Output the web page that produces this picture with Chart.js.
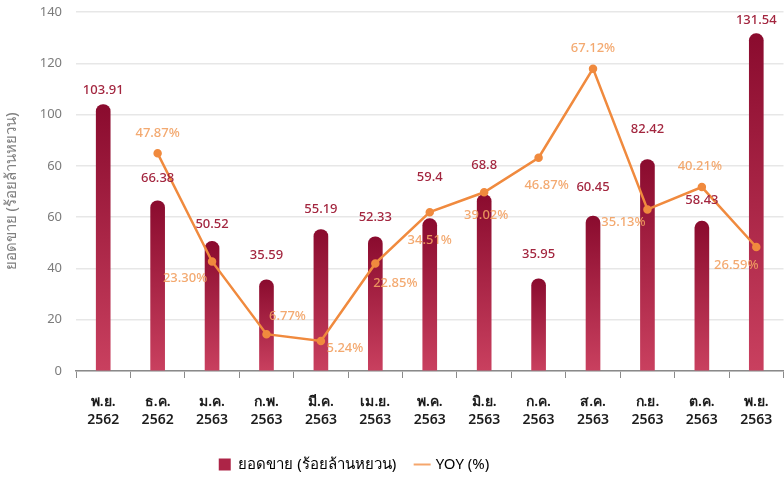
<!DOCTYPE html>
<html>
<head>
    <title>Chart</title>
    <script src="https://cdn.jsdelivr.net/npm/chart.js"></script>
    <style>
        body { margin: 0; overflow: hidden; background: #fff; }
    </style>
</head>
<body>
    <canvas id="sales" width="790" height="478"></canvas>
    <script>
        // months (Thai short month + Buddhist year)
        var months = ['พ.ย.', 'ธ.ค.', 'ม.ค.', 'ก.พ.', 'มี.ค.', 'เม.ย.', 'พ.ค.', 'มิ.ย.', 'ก.ค.', 'ส.ค.', 'ก.ย.', 'ต.ค.', 'พ.ย.']
        var years = ['2562', '2562', '2563', '2563', '2563', '2563', '2563', '2563', '2563', '2563', '2563', '2563', '2563']
        // sales, hundred million yuan
        var sales = [103.91, 66.38, 50.52, 35.59, 55.19, 52.33, 59.4, 68.8, 35.95, 60.45, 82.42, 58.43, 131.54]
        // year over year %
        var yoy = [null, 47.87, 23.30, 6.77, 5.24, 22.85, 34.51, 39.02, 46.87, 67.12, 35.13, 40.21, 26.59]
        // y tick labels as printed on the original (0..140 step 20)
        var yTickLabels = ['0', '20', '40', '60', '60', '100', '120', '140']

        var labels = months.map(function (m, i) { return [m, years[i]] })

        // label placement (px offsets from the mark), not data
        var barLabelLift = [14, 22, 17, 24, 20, 20, 41, 29, 25, 29, 30, 21, 13]
        var yoyLabelShift = [null, [0, -20], [-27, 17], [21, -18], [24, 7], [20, 20], [0, 28], [2, 23], [8, 28], [0, -20], [-24, 13], [-2, -21], [-20, 18]]

        var FONT = "'Noto Sans', 'Lato', sans-serif"

        function barGradient(c) {
            var chart = c.chart
            if (!chart.chartArea || c.type !== 'data') return '#a51f42'
            var y = chart.scales.y
            var top = y.getPixelForValue(c.parsed.y)
            var bottom = y.getPixelForValue(0)
            var g = chart.ctx.createLinearGradient(0, top, 0, bottom)
            g.addColorStop(0, '#8a0b2e')
            g.addColorStop(1, '#c9405f')
            return g
        }

        var valueLabels = {
            id: 'valueLabels',
            afterDatasetsDraw: function (chart) {
                var ctx = chart.ctx
                ctx.save()
                ctx.textAlign = 'center'
                ctx.textBaseline = 'middle'
                ctx.font = '500 13px ' + FONT

                var bars = chart.getDatasetMeta(0).data
                ctx.fillStyle = '#a3263f'
                bars.forEach(function (b, i) {
                    ctx.fillText(String(sales[i]), b.x, b.y - barLabelLift[i])
                })

                var pts = chart.getDatasetMeta(1).data
                ctx.fillStyle = 'rgba(242,160,96,0.9)'
                pts.forEach(function (p, i) {
                    if (yoy[i] == null) return
                    var s = yoyLabelShift[i]
                    ctx.fillText(yoy[i].toFixed(2) + '%', p.x + s[0], p.y + s[1])
                })
                ctx.restore()
            },
            beforeDraw: function (chart) {
                // legend sits left of the canvas centre in the reference
                chart.legend.left -= 41
                chart.legend.right -= 41
                chart.legend.top += 4
                chart.legend.bottom += 4
            }
        }

        var ctx = document.getElementById('sales').getContext('2d')
        var chart = new Chart(ctx, {
            data: {
                labels: labels,
                datasets: [{
                    type: 'bar',
                    label: 'ยอดขาย (ร้อยล้านหยวน)',
                    data: sales,
                    backgroundColor: barGradient,
                    barThickness: 14,
                    borderRadius: 7,
                    borderSkipped: 'bottom',
                    order: 2
                }, {
                    type: 'line',
                    label: 'YOY (%)',
                    data: yoy,
                    yAxisID: 'y1',
                    borderColor: '#f08a3e',
                    backgroundColor: '#f08a3e',
                    borderWidth: 2.5,
                    pointRadius: 3,
                    pointBackgroundColor: '#f08a3e',
                    tension: 0,
                    order: 1
                }]
            },
            options: {
                responsive: false,
                devicePixelRatio: 1,
                animation: false,
                layout: { padding: 0 },
                plugins: {
                    tooltip: { enabled: false },
                    legend: {
                        position: 'bottom',
                        labels: {
                            usePointStyle: true,
                            boxWidth: 12,
                            boxHeight: 12,
                            padding: 20,
                            color: '#333',
                            font: { family: FONT, size: 15 },
                            generateLabels: function () {
                                return [{
                                    text: 'ยอดขาย (ร้อยล้านหยวน)',
                                    fillStyle: '#ad2447',
                                    strokeStyle: '#ad2447',
                                    lineWidth: 0,
                                    pointStyle: 'rect',
                                    datasetIndex: 0
                                }, {
                                    text: 'YOY (%)',
                                    fillStyle: '#f08a3e',
                                    strokeStyle: '#f5a66c',
                                    lineWidth: 2,
                                    pointStyle: 'line',
                                    datasetIndex: 1
                                }]
                            }
                        }
                    }
                },
                scales: {
                    x: {
                        grid: {
                            drawOnChartArea: false,
                            tickLength: 7,
                            color: '#8a8a8a'
                        },
                        border: { color: '#8a8a8a', width: 1.5 },
                        ticks: {
                            color: '#1c1c1c',
                            padding: 15,
                            maxRotation: 0,
                            autoSkip: false,
                            font: { family: FONT, size: 14, weight: '600', lineHeight: 1.3 }
                        },
                        afterFit: function (s) { s.height = 62 }
                    },
                    y: {
                        min: 0,
                        max: 140,
                        ticks: {
                            stepSize: 20,
                            color: '#7c7c7c',
                            padding: 14,
                            font: { family: FONT, size: 13 },
                            callback: function (v) { return yTickLabels[v / 20] }
                        },
                        grid: { color: '#e7e7e7', lineWidth: 1.5, tickLength: 0 },
                        border: { display: false },
                        title: {
                            display: true,
                            text: 'ยอดขาย (ร้อยล้านหยวน)',
                            color: '#808080',
                            font: { family: FONT, size: 15 },
                            padding: { top: 3, bottom: 0 }
                        },
                        afterFit: function (s) {
                            s.width = 76
                            s.paddingTop = 12
                        }
                    },
                    y1: {
                        display: false,
                        min: -1.6,
                        max: 80
                    }
                }
            },
            plugins: [valueLabels]
        })
    </script>
</body>
</html>
